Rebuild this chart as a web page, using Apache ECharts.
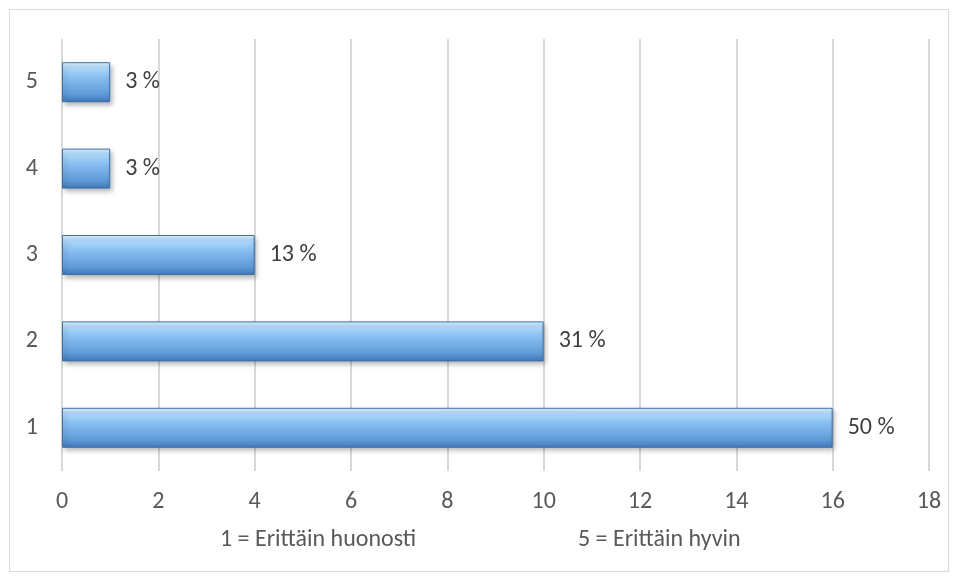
<!DOCTYPE html>
<html><head><meta charset="utf-8">
<script src="https://cdn.jsdelivr.net/npm/echarts@6/dist/echarts.min.js"></script>
<style>html,body{margin:0;padding:0;background:#fff;}#c{width:958px;height:581px;}</style>
</head><body><div id="c"></div>
<script>
const categories = ['1','2','3','4','5'];
const values = [16, 10, 4, 1, 1];
const percentLabels = ['50 %','31 %','13 %','3 %','3 %'];
const xTicks = {min: 0, max: 18, interval: 2};
const noteLeft = '1 = Erittäin huonosti';
const noteRight = '5 = Erittäin hyvin';

const chart = echarts.init(document.getElementById('c'));
const font = 'Carlito, "Open Sans", "Noto Sans", sans-serif';
chart.setOption({
  animation: false,
  graphic: [
    {type:'rect', shape:{x:9.5,y:9.5,width:939,height:562}, style:{fill:'none', stroke:'#d9d9d9', lineWidth:1}},
    {type:'text', x:220, y:540, style:{text:noteLeft, fill:'#595959', font:'24px ' + font, textVerticalAlign:'middle', verticalAlign:'middle'}},
    {type:'text', x:578, y:540, style:{text:noteRight, fill:'#595959', font:'24px ' + font, textVerticalAlign:'middle', verticalAlign:'middle'}}
  ],
  grid: {left:62, right:29, top:39, bottom:110, containLabel:false},
  xAxis: {
    type:'value', min:xTicks.min, max:xTicks.max, interval:xTicks.interval,
    axisLine:{show:false}, axisTick:{show:false},
    axisLabel:{color:'#595959', fontSize:24, fontFamily:font, margin:19},
    splitLine:{show:true, lineStyle:{color:'#d9d9d9', width:2}}
  },
  yAxis: {
    type:'category', data:categories,
    axisLine:{show:false}, axisTick:{show:false},
    axisLabel:{color:'#595959', fontSize:24, fontFamily:font, margin:24},
    splitLine:{show:false}
  },
  series: [{
    type:'bar', data:values, barWidth:40,
    itemStyle:{
      color:{type:'linear', x:0, y:0, x2:0, y2:1, colorStops:[
        {offset:0, color:'#e4f6ff'},
        {offset:0.12, color:'#b4dcfb'},
        {offset:0.35, color:'#8cc2f2'},
        {offset:0.8, color:'#5f9ad8'},
        {offset:1, color:'#3f77b8'}
      ]},
      borderColor:'#3d6fa8', borderWidth:1,
      shadowColor:'rgba(0,0,0,0.3)', shadowBlur:5, shadowOffsetX:2, shadowOffsetY:3
    },
    label:{show:true, position:'right', distance:15, color:'#404040', fontSize:24, fontFamily:font,
      formatter: p => percentLabels[p.dataIndex]}
  }]
});
</script></body></html>
